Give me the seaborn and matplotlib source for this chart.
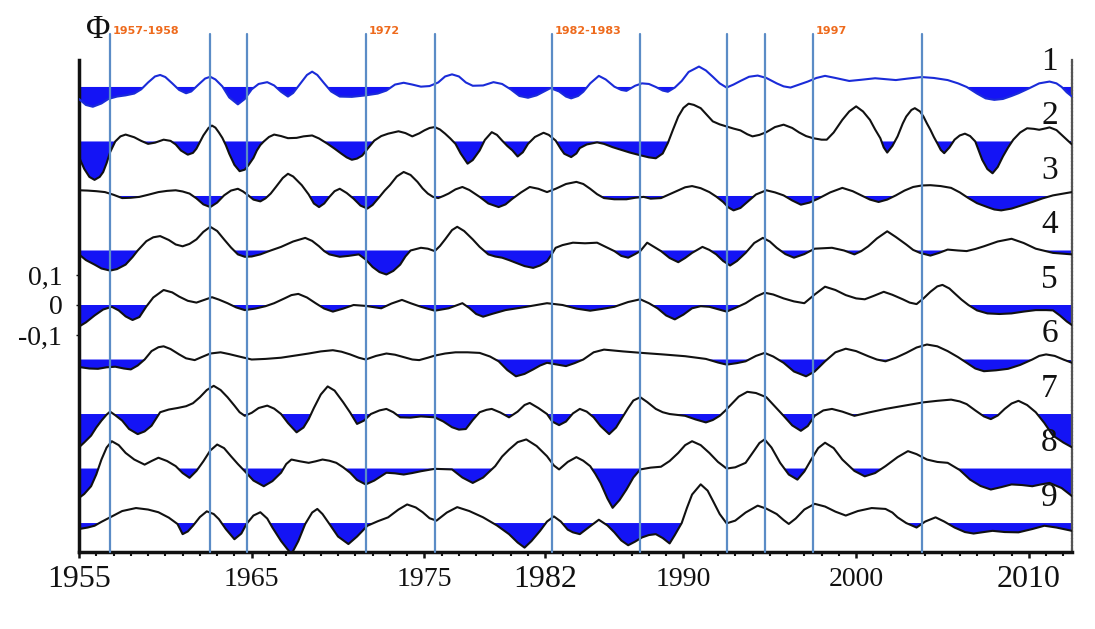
import matplotlib
matplotlib.use("Agg")
import matplotlib.pyplot as plt
import matplotlib.transforms as mtransforms
from matplotlib.ticker import FixedLocator, MultipleLocator
import seaborn as sns
import numpy as np

# ---------------- data ----------------
s1_year = [1955.0, 1955.4, 1955.8, 1956.3, 1956.7, 1957.2, 1957.7, 1958.2, 1958.6, 1959.0, 1959.4,
           1959.7, 1960.0, 1960.4, 1960.8, 1961.2, 1961.5, 1961.9, 1962.3, 1962.6, 1962.9, 1963.3,
           1963.7, 1964.2, 1964.6, 1965.0, 1965.4, 1965.9, 1966.3, 1966.7, 1967.1, 1967.4, 1967.8,
           1968.2, 1968.5, 1968.8, 1969.2, 1969.6, 1970.1, 1970.8, 1971.6, 1972.3, 1972.8, 1973.3,
           1973.8, 1974.3, 1974.8, 1975.3, 1975.8, 1976.2, 1976.6, 1977.0, 1977.4, 1977.8, 1978.4,
           1979.0, 1979.5, 1980.0, 1980.5, 1981.0, 1981.5, 1981.9, 1982.3, 1982.8, 1983.2, 1983.5,
           1983.9, 1984.2, 1984.6, 1985.1, 1985.5, 1986.0, 1986.4, 1986.7, 1987.2, 1987.6, 1988.0,
           1988.4, 1988.8, 1989.1, 1989.5, 1989.9, 1990.3, 1990.9, 1991.3, 1991.7, 1992.1, 1992.5,
           1992.9, 1993.3, 1993.8, 1994.3, 1994.8, 1995.4, 1995.8, 1996.2, 1996.7, 1997.2, 1997.7,
           1998.2, 1998.8, 1999.6, 2000.3, 2001.1, 2001.7, 2002.3, 2003.0, 2003.8, 2004.5, 2005.3,
           2005.9, 2006.4, 2007.0, 2007.5, 2008.0, 2008.5, 2009.0, 2009.4, 2010.0, 2010.6, 2011.2,
           2011.6, 2011.9, 2012.2, 2012.5]
s1_val = [-0.040, -0.060, -0.066, -0.055, -0.040, -0.032, -0.028, -0.022, -0.008, 0.015, 0.035,
          0.040, 0.033, 0.012, -0.010, -0.021, -0.015, 0.007, 0.028, 0.034, 0.025, 0.002,
          -0.035, -0.058, -0.040, -0.008, 0.010, 0.016, 0.005, -0.016, -0.032, -0.020, 0.010,
          0.040, 0.051, 0.040, 0.012, -0.015, -0.032, -0.033, -0.028, -0.022, -0.012, 0.008,
          0.014, 0.008, 0.001, 0.003, 0.015, 0.035, 0.042, 0.035, 0.015, 0.004, 0.005,
          0.016, 0.010, -0.008, -0.030, -0.036, -0.028, -0.016, -0.004, -0.015, -0.032, -0.038,
          -0.030, -0.016, 0.012, 0.037, 0.025, 0.001, -0.010, -0.013, 0.004, 0.012, 0.010,
          0.000, -0.012, -0.016, -0.002, 0.020, 0.050, 0.068, 0.055, 0.034, 0.012, -0.002,
          0.008, 0.020, 0.034, 0.038, 0.030, 0.012, 0.002, -0.002, 0.008, 0.018, 0.030,
          0.037, 0.030, 0.020, 0.024, 0.029, 0.026, 0.023, 0.028, 0.033, 0.030, 0.023,
          0.012, 0.000, -0.022, -0.038, -0.043, -0.040, -0.030, -0.021, -0.005, 0.012, 0.018,
          0.012, 0.000, -0.018, -0.032]

s2_year = [1955.0, 1955.3, 1955.6, 1955.9, 1956.2, 1956.4, 1956.6, 1956.8, 1957.1, 1957.4, 1957.7,
           1958.2, 1958.6, 1959.0, 1959.4, 1959.9, 1960.3, 1960.6, 1960.9, 1961.3, 1961.6, 1961.8,
           1962.0, 1962.2, 1962.5, 1962.7, 1962.9, 1963.1, 1963.3, 1963.5, 1963.7, 1964.0, 1964.3,
           1964.6, 1964.8, 1965.1, 1965.3, 1965.5, 1965.7, 1966.0, 1966.3, 1966.7, 1967.1, 1967.6,
           1968.0, 1968.5, 1968.9, 1969.4, 1969.8, 1970.2, 1970.5, 1970.8, 1971.1, 1971.4, 1971.7,
           1972.1, 1972.5, 1972.9, 1973.5, 1973.9, 1974.3, 1974.7, 1975.0, 1975.3, 1975.6, 1975.9,
           1976.2, 1976.5, 1976.8, 1977.1, 1977.5, 1977.8, 1978.2, 1978.5, 1978.9, 1979.2, 1979.5,
           1979.8, 1980.1, 1980.4, 1980.7, 1981.0, 1981.4, 1981.9, 1982.2, 1982.6, 1982.9, 1983.1,
           1983.5, 1983.8, 1984.0, 1984.4, 1985.0, 1985.4, 1985.9, 1986.4, 1986.9, 1987.5, 1988.0,
           1988.4, 1988.8, 1989.1, 1989.4, 1989.7, 1990.0, 1990.3, 1990.6, 1991.0, 1991.3, 1991.7,
           1992.1, 1992.5, 1992.9, 1993.3, 1993.7, 1994.0, 1994.4, 1994.8, 1995.3, 1995.8, 1996.3,
           1996.7, 1997.1, 1997.5, 1998.0, 1998.3, 1998.7, 1999.2, 1999.6, 2000.0, 2000.4, 2000.8,
           2001.1, 2001.4, 2001.6, 2001.8, 2002.1, 2002.4, 2002.7, 2002.9, 2003.2, 2003.4, 2003.7,
           2003.9, 2004.1, 2004.3, 2004.5, 2004.7, 2004.9, 2005.1, 2005.4, 2005.7, 2006.0, 2006.3,
           2006.6, 2006.9, 2007.1, 2007.3, 2007.6, 2007.9, 2008.2, 2008.5, 2008.8, 2009.1, 2009.5,
           2009.9, 2010.3, 2010.6, 2011.0, 2011.2, 2011.6, 2011.9, 2012.2, 2012.5]
s2_val = [-0.052, -0.091, -0.118, -0.128, -0.118, -0.102, -0.072, -0.036, 0.000, 0.017, 0.023,
          0.014, 0.002, -0.008, -0.004, 0.006, 0.002, -0.010, -0.030, -0.044, -0.038, -0.024,
          -0.002, 0.020, 0.045, 0.053, 0.046, 0.030, 0.012, -0.012, -0.041, -0.078, -0.099,
          -0.094, -0.080, -0.055, -0.030, -0.012, 0.000, 0.015, 0.023, 0.018, 0.011, 0.012,
          0.017, 0.020, 0.010, -0.008, -0.024, -0.041, -0.053, -0.061, -0.057, -0.047, -0.025,
          0.003, 0.018, 0.026, 0.034, 0.028, 0.017, 0.027, 0.037, 0.045, 0.048, 0.040,
          0.026, 0.010, -0.008, -0.040, -0.074, -0.062, -0.030, 0.005, 0.031, 0.022, 0.003,
          -0.015, -0.030, -0.050, -0.036, -0.008, 0.015, 0.029, 0.022, 0.003, -0.025, -0.041,
          -0.052, -0.040, -0.022, -0.010, -0.003, -0.008, -0.019, -0.028, -0.037, -0.046, -0.053,
          -0.056, -0.040, -0.005, 0.040, 0.083, 0.112, 0.126, 0.122, 0.111, 0.092, 0.067,
          0.057, 0.050, 0.043, 0.037, 0.024, 0.017, 0.022, 0.031, 0.048, 0.056, 0.045,
          0.030, 0.018, 0.011, 0.006, 0.006, 0.030, 0.072, 0.100, 0.117, 0.100, 0.072,
          0.040, 0.011, -0.020, -0.037, -0.015, 0.017, 0.060, 0.083, 0.105, 0.111, 0.100,
          0.083, 0.060, 0.039, 0.015, -0.006, -0.028, -0.039, -0.020, 0.006, 0.020, 0.026,
          0.018, 0.000, -0.030, -0.061, -0.092, -0.106, -0.085, -0.050, -0.020, 0.006, 0.030,
          0.044, 0.042, 0.039, 0.044, 0.047, 0.038, 0.022, 0.006, -0.010]

s3_year = [1955.0, 1955.5, 1956.0, 1956.5, 1957.0, 1957.5, 1958.0, 1958.5, 1959.0, 1959.6, 1960.1,
           1960.6, 1961.0, 1961.4, 1961.8, 1962.2, 1962.6, 1963.0, 1963.4, 1963.8, 1964.2, 1964.5,
           1964.8, 1965.1, 1965.5, 1965.8, 1966.1, 1966.4, 1966.8, 1967.1, 1967.4, 1967.9, 1968.3,
           1968.6, 1968.9, 1969.2, 1969.5, 1969.8, 1970.1, 1970.5, 1970.9, 1971.3, 1971.7, 1972.0,
           1972.4, 1972.7, 1973.0, 1973.4, 1973.8, 1974.2, 1974.6, 1974.9, 1975.2, 1975.5, 1975.8,
           1976.1, 1976.4, 1976.8, 1977.2, 1977.6, 1978.2, 1978.7, 1979.3, 1979.7, 1980.1, 1980.6,
           1981.1, 1981.6, 1982.1, 1982.6, 1983.2, 1983.8, 1984.2, 1984.6, 1985.0, 1985.4, 1986.0,
           1986.7, 1987.2, 1987.7, 1988.1, 1988.7, 1989.2, 1989.7, 1990.1, 1990.5, 1991.0, 1991.5,
           1991.9, 1992.3, 1992.6, 1992.9, 1993.3, 1993.7, 1994.2, 1994.8, 1995.3, 1995.8, 1996.3,
           1996.8, 1997.3, 1997.8, 1998.5, 1999.2, 1999.8, 2000.3, 2000.8, 2001.3, 2001.8, 2002.3,
           2002.8, 2003.3, 2003.8, 2004.3, 2004.9, 2005.5, 2006.0, 2006.5, 2007.0, 2007.6, 2008.0,
           2008.4, 2009.0, 2009.6, 2010.2, 2010.8, 2011.4, 2012.0, 2012.5]
s3_val = [0.019, 0.018, 0.016, 0.013, 0.004, -0.007, -0.006, -0.003, 0.004, 0.013, 0.017,
          0.019, 0.015, 0.008, -0.008, -0.028, -0.037, -0.022, 0.002, 0.018, 0.024, 0.015,
          0.002, -0.012, -0.018, -0.008, 0.008, 0.030, 0.060, 0.074, 0.065, 0.036, 0.005,
          -0.025, -0.037, -0.025, -0.003, 0.016, 0.024, 0.010, -0.009, -0.032, -0.042, -0.030,
          -0.003, 0.018, 0.036, 0.065, 0.080, 0.070, 0.047, 0.025, 0.008, -0.003, -0.007,
          0.000, 0.008, 0.022, 0.030, 0.020, -0.003, -0.025, -0.037, -0.028, -0.009, 0.012,
          0.030, 0.024, 0.013, 0.024, 0.040, 0.047, 0.040, 0.024, 0.006, -0.007, -0.011,
          -0.011, -0.006, -0.003, -0.009, -0.007, 0.006, 0.019, 0.029, 0.033, 0.026, 0.013,
          -0.002, -0.020, -0.038, -0.048, -0.040, -0.020, 0.005, 0.019, 0.012, 0.002, -0.015,
          -0.029, -0.022, -0.009, 0.012, 0.027, 0.016, 0.002, -0.012, -0.020, -0.012, 0.002,
          0.018, 0.030, 0.035, 0.036, 0.033, 0.027, 0.012, -0.007, -0.024, -0.037, -0.045,
          -0.048, -0.042, -0.031, -0.020, -0.008, 0.002, 0.008, 0.013]

s4_year = [1955.0, 1955.4, 1955.9, 1956.3, 1956.8, 1957.2, 1957.7, 1958.1, 1958.4, 1958.9, 1959.3,
           1959.7, 1960.2, 1960.6, 1961.0, 1961.4, 1961.8, 1962.2, 1962.6, 1963.0, 1963.4, 1963.8,
           1964.2, 1964.6, 1965.0, 1965.5, 1966.1, 1966.7, 1967.4, 1968.1, 1968.5, 1968.9, 1969.2,
           1969.5, 1970.1, 1970.6, 1971.2, 1971.6, 1972.0, 1972.4, 1972.8, 1973.2, 1973.6, 1973.9,
           1974.2, 1974.8, 1975.2, 1975.6, 1975.9, 1976.2, 1976.6, 1976.9, 1977.3, 1977.8, 1978.2,
           1978.7, 1979.1, 1979.5, 1979.9, 1980.3, 1980.8, 1981.3, 1981.7, 1982.1, 1982.4, 1982.6,
           1983.0, 1983.6, 1984.3, 1985.0, 1985.5, 1986.0, 1986.4, 1986.8, 1987.2, 1987.5, 1987.9,
           1988.3, 1988.7, 1989.2, 1989.7, 1990.1, 1990.5, 1991.1, 1991.5, 1991.9, 1992.3, 1992.7,
           1993.1, 1993.6, 1994.1, 1994.6, 1995.0, 1995.4, 1995.9, 1996.4, 1997.0, 1997.6, 1998.6,
           1999.3, 1999.9, 2000.3, 2000.7, 2001.2, 2001.8, 2002.3, 2002.9, 2003.3, 2003.7, 2004.3,
           2004.8, 2005.3, 2005.9, 2006.4, 2006.9, 2007.4, 2008.2, 2009.0, 2009.7, 2010.4, 2011.4,
           2012.5]
s4_val = [-0.013, -0.032, -0.047, -0.060, -0.067, -0.062, -0.047, -0.022, 0.000, 0.031, 0.044,
          0.048, 0.035, 0.020, 0.014, 0.022, 0.037, 0.062, 0.079, 0.065, 0.037, 0.010,
          -0.013, -0.021, -0.020, -0.013, 0.000, 0.012, 0.030, 0.042, 0.032, 0.014, -0.002,
          -0.013, -0.021, -0.018, -0.013, -0.030, -0.055, -0.072, -0.080, -0.068, -0.047, -0.020,
          0.000, 0.009, 0.006, -0.002, 0.015, 0.037, 0.068, 0.079, 0.065, 0.037, 0.012,
          -0.013, -0.020, -0.024, -0.032, -0.041, -0.052, -0.058, -0.050, -0.036, -0.010, 0.009,
          0.018, 0.026, 0.024, 0.026, 0.012, -0.002, -0.018, -0.024, -0.012, -0.002, 0.026,
          0.012, -0.002, -0.025, -0.039, -0.025, -0.008, 0.012, 0.002, -0.013, -0.035, -0.050,
          -0.035, -0.008, 0.025, 0.042, 0.030, 0.009, -0.012, -0.024, -0.012, 0.006, 0.009,
          0.000, -0.013, -0.002, 0.014, 0.040, 0.064, 0.045, 0.020, 0.002, -0.008, -0.017,
          -0.008, 0.003, 0.000, -0.002, 0.005, 0.014, 0.030, 0.039, 0.025, 0.006, -0.008,
          -0.013]

s5_year = [1955.0, 1955.4, 1955.9, 1956.4, 1956.9, 1957.3, 1957.7, 1958.1, 1958.5, 1958.9, 1959.3,
           1959.9, 1960.4, 1960.8, 1961.3, 1961.8, 1962.2, 1962.7, 1963.1, 1963.6, 1964.1, 1964.6,
           1965.2, 1965.8, 1966.3, 1966.9, 1967.3, 1967.7, 1968.2, 1968.7, 1969.2, 1969.7, 1970.3,
           1970.9, 1971.6, 1972.5, 1973.1, 1973.7, 1974.2, 1974.8, 1975.6, 1976.4, 1977.2, 1977.6,
           1978.0, 1978.4, 1978.9, 1979.7, 1980.9, 1982.1, 1983.0, 1983.8, 1984.6, 1985.3, 1986.0,
           1986.8, 1987.5, 1988.0, 1988.5, 1989.0, 1989.5, 1990.0, 1990.5, 1991.0, 1991.5, 1992.0,
           1992.5, 1993.0, 1993.6, 1994.2, 1994.7, 1995.2, 1995.8, 1996.4, 1997.0, 1997.6, 1998.2,
           1998.8, 1999.4, 2000.0, 2000.5, 2001.0, 2001.6, 2002.1, 2002.7, 2003.1, 2003.5, 2003.9,
           2004.3, 2004.7, 2005.0, 2005.4, 2005.7, 2006.1, 2006.5, 2007.0, 2007.6, 2008.3, 2009.0,
           2009.7, 2010.4, 2011.0, 2011.4, 2011.8, 2012.2, 2012.5]
s5_val = [-0.072, -0.058, -0.035, -0.015, -0.006, -0.018, -0.038, -0.050, -0.040, -0.005, 0.025,
          0.050, 0.042, 0.028, 0.014, 0.008, 0.016, 0.026, 0.018, 0.006, -0.008, -0.017,
          -0.012, -0.004, 0.006, 0.022, 0.033, 0.037, 0.025, 0.006, -0.012, -0.022, -0.012,
          0.000, -0.003, -0.011, 0.005, 0.017, 0.006, -0.006, -0.019, -0.011, 0.006, -0.010,
          -0.030, -0.039, -0.030, -0.017, -0.006, 0.006, 0.000, -0.012, -0.019, -0.013, -0.006,
          0.010, 0.019, 0.006, -0.011, -0.035, -0.048, -0.032, -0.011, -0.004, -0.006, -0.014,
          -0.022, -0.010, 0.006, 0.028, 0.041, 0.035, 0.022, 0.012, 0.006, 0.035, 0.061,
          0.050, 0.033, 0.022, 0.019, 0.030, 0.044, 0.034, 0.019, 0.008, 0.003, 0.022,
          0.044, 0.062, 0.067, 0.055, 0.039, 0.018, 0.000, -0.018, -0.028, -0.030, -0.028,
          -0.022, -0.017, -0.017, -0.018, -0.035, -0.055, -0.067]

s6_year = [1955.0, 1955.6, 1956.1, 1956.6, 1957.1, 1957.6, 1958.0, 1958.4, 1958.8, 1959.2, 1959.6,
           1959.9, 1960.3, 1960.8, 1961.2, 1961.7, 1962.1, 1962.6, 1963.2, 1963.7, 1964.2, 1965.0,
           1965.8, 1966.7, 1967.5, 1968.3, 1969.0, 1969.7, 1970.2, 1970.7, 1971.2, 1971.6, 1972.2,
           1972.8, 1973.3, 1973.8, 1974.3, 1974.7, 1975.2, 1975.6, 1976.2, 1976.8, 1977.5, 1978.2,
           1978.8, 1979.3, 1979.8, 1980.3, 1980.8, 1981.3, 1981.7, 1982.1, 1982.6, 1983.2, 1983.7,
           1984.2, 1984.8, 1985.4, 1986.5, 1987.6, 1988.8, 1990.1, 1991.3, 1992.0, 1992.5, 1993.1,
           1993.6, 1994.2, 1994.7, 1995.2, 1995.8, 1996.4, 1997.1, 1997.6, 1998.2, 1998.8, 1999.4,
           2000.0, 2000.7, 2001.2, 2001.7, 2002.3, 2002.9, 2003.5, 2004.1, 2004.7, 2005.3, 2005.9,
           2006.4, 2006.9, 2007.4, 2008.1, 2008.8, 2009.5, 2010.2, 2010.6, 2011.0, 2011.5, 2012.0,
           2012.5]
s6_val = [-0.025, -0.030, -0.031, -0.026, -0.024, -0.030, -0.033, -0.020, 0.000, 0.028, 0.041,
          0.044, 0.035, 0.017, 0.004, -0.002, 0.008, 0.020, 0.024, 0.018, 0.011, 0.000,
          0.002, 0.006, 0.013, 0.020, 0.027, 0.031, 0.026, 0.017, 0.006, 0.000, 0.012,
          0.020, 0.016, 0.008, 0.000, -0.002, 0.006, 0.013, 0.020, 0.024, 0.024, 0.022,
          0.010, -0.006, -0.035, -0.056, -0.048, -0.033, -0.020, -0.011, -0.016, -0.022, -0.012,
          0.000, 0.024, 0.033, 0.027, 0.022, 0.017, 0.011, 0.002, -0.010, -0.017, -0.012,
          -0.006, 0.012, 0.022, 0.010, -0.011, -0.040, -0.056, -0.040, -0.006, 0.024, 0.036,
          0.028, 0.011, 0.000, -0.006, 0.006, 0.022, 0.040, 0.050, 0.044, 0.028, 0.008,
          -0.011, -0.030, -0.039, -0.036, -0.031, -0.018, 0.000, 0.012, 0.017, 0.012, 0.000,
          -0.011]

s7_year = [1955.0, 1955.3, 1955.7, 1956.0, 1956.3, 1956.6, 1956.8, 1957.1, 1957.5, 1957.9, 1958.4,
           1958.8, 1959.2, 1959.5, 1959.7, 1960.2, 1960.7, 1961.2, 1961.6, 1962.0, 1962.4, 1962.8,
           1963.2, 1963.6, 1964.0, 1964.3, 1964.6, 1965.0, 1965.4, 1965.9, 1966.3, 1966.7, 1967.1,
           1967.6, 1968.0, 1968.3, 1968.6, 1969.0, 1969.4, 1969.8, 1970.3, 1970.7, 1971.1, 1971.5,
           1971.9, 1972.4, 1972.8, 1973.2, 1973.6, 1974.2, 1974.8, 1975.6, 1976.1, 1976.6, 1977.0,
           1977.4, 1977.8, 1978.2, 1978.6, 1978.9, 1979.4, 1979.9, 1980.4, 1980.8, 1981.1, 1981.6,
           1982.1, 1982.4, 1982.8, 1983.2, 1983.6, 1984.0, 1984.4, 1984.8, 1985.2, 1985.7, 1986.1,
           1986.4, 1986.8, 1987.1, 1987.5, 1987.9, 1988.4, 1988.8, 1989.2, 1990.1, 1990.7, 1991.3,
           1991.7, 1992.1, 1992.4, 1992.7, 1993.2, 1993.7, 1994.2, 1994.8, 1995.3, 1995.8, 1996.3,
           1996.8, 1997.2, 1997.6, 1998.1, 1998.6, 1999.2, 1999.9, 2000.8, 2001.7, 2002.8, 2003.9,
           2004.7, 2005.5, 2006.0, 2006.4, 2006.9, 2007.4, 2007.8, 2008.2, 2008.6, 2009.0, 2009.4,
           2009.9, 2010.4, 2010.9, 2011.4, 2012.0, 2012.5]
s7_val = [-0.111, -0.095, -0.072, -0.045, -0.022, -0.002, 0.008, -0.004, -0.022, -0.050, -0.067,
          -0.058, -0.039, -0.012, 0.006, 0.015, 0.020, 0.026, 0.036, 0.056, 0.080, 0.094,
          0.080, 0.056, 0.028, 0.006, -0.006, 0.004, 0.020, 0.028, 0.018, 0.000, -0.030,
          -0.061, -0.045, -0.017, 0.020, 0.065, 0.092, 0.078, 0.039, 0.005, -0.033, -0.022,
          0.000, 0.012, 0.017, 0.006, -0.011, -0.012, -0.008, -0.011, -0.025, -0.044, -0.052,
          -0.050, -0.020, 0.006, 0.014, 0.017, 0.005, -0.011, 0.008, 0.030, 0.037, 0.020,
          0.000, -0.025, -0.037, -0.025, 0.002, 0.017, 0.008, -0.011, -0.040, -0.067, -0.045,
          -0.017, 0.020, 0.045, 0.056, 0.040, 0.017, 0.006, 0.000, -0.006, -0.018, -0.028,
          -0.020, -0.006, 0.010, 0.028, 0.058, 0.074, 0.070, 0.056, 0.025, -0.006, -0.038,
          -0.056, -0.040, -0.006, 0.012, 0.017, 0.008, -0.006, 0.006, 0.017, 0.028, 0.039,
          0.044, 0.048, 0.042, 0.033, 0.012, -0.008, -0.017, -0.005, 0.017, 0.035, 0.044,
          0.030, 0.006, -0.030, -0.072, -0.095, -0.111]

s8_year = [1955.0, 1955.3, 1955.7, 1956.0, 1956.3, 1956.6, 1956.9, 1957.3, 1957.7, 1958.2, 1958.8,
           1959.2, 1959.6, 1960.1, 1960.6, 1961.0, 1961.4, 1961.8, 1962.2, 1962.6, 1963.0, 1963.4,
           1963.8, 1964.2, 1964.6, 1965.1, 1965.7, 1966.2, 1966.7, 1967.0, 1967.3, 1967.8, 1968.3,
           1968.7, 1969.1, 1969.5, 1969.9, 1970.3, 1970.7, 1971.1, 1971.6, 1972.1, 1972.8, 1973.3,
           1973.8, 1974.3, 1974.8, 1975.6, 1976.6, 1977.2, 1977.8, 1978.4, 1979.1, 1979.5, 1979.9,
           1980.4, 1980.9, 1981.5, 1982.1, 1982.5, 1982.8, 1983.3, 1983.8, 1984.2, 1984.6, 1984.9,
           1985.2, 1985.6, 1985.9, 1986.3, 1986.7, 1987.1, 1987.5, 1988.1, 1988.7, 1989.2, 1989.7,
           1990.1, 1990.5, 1991.0, 1991.5, 1992.0, 1992.5, 1993.0, 1993.6, 1994.1, 1994.4, 1994.7,
           1995.1, 1995.6, 1996.1, 1996.6, 1997.0, 1997.4, 1997.8, 1998.2, 1998.7, 1999.2, 1999.9,
           2000.5, 2001.1, 2001.7, 2002.4, 2003.0, 2003.5, 2004.1, 2004.7, 2005.3, 2006.0, 2006.6,
           2007.2, 2007.8, 2008.4, 2009.0, 2009.6, 2010.2, 2010.7, 2011.2, 2011.9, 2012.5]
s8_val = [-0.098, -0.085, -0.059, -0.020, 0.030, 0.070, 0.091, 0.078, 0.052, 0.030, 0.013,
          0.025, 0.036, 0.025, 0.008, -0.015, -0.031, -0.008, 0.024, 0.060, 0.080, 0.068,
          0.041, 0.015, -0.009, -0.040, -0.059, -0.042, -0.014, 0.015, 0.030, 0.024, 0.019,
          0.024, 0.030, 0.026, 0.019, 0.004, -0.014, -0.038, -0.053, -0.040, -0.014, -0.016,
          -0.020, -0.015, -0.009, -0.001, -0.003, -0.030, -0.048, -0.030, 0.008, 0.040, 0.063,
          0.088, 0.097, 0.075, 0.041, 0.010, -0.003, 0.022, 0.038, 0.026, 0.008, -0.018,
          -0.048, -0.100, -0.131, -0.105, -0.070, -0.030, -0.003, 0.003, 0.006, 0.025, 0.052,
          0.078, 0.091, 0.078, 0.052, 0.022, 0.000, 0.004, 0.019, 0.060, 0.085, 0.097,
          0.070, 0.019, -0.020, -0.037, -0.010, 0.030, 0.068, 0.086, 0.068, 0.030, -0.008,
          -0.026, -0.015, 0.008, 0.038, 0.058, 0.048, 0.030, 0.022, 0.019, -0.005, -0.037,
          -0.058, -0.070, -0.062, -0.053, -0.055, -0.059, -0.053, -0.048, -0.065, -0.092]

s9_year = [1955.0, 1955.5, 1955.9, 1956.3, 1956.8, 1957.5, 1958.3, 1959.0, 1959.6, 1960.2, 1960.7,
           1961.0, 1961.3, 1961.6, 1962.0, 1962.4, 1962.8, 1963.1, 1963.5, 1964.0, 1964.4, 1964.7,
           1965.1, 1965.5, 1965.9, 1966.2, 1966.7, 1967.3, 1967.7, 1968.1, 1968.5, 1968.8, 1969.1,
           1969.5, 1970.0, 1970.6, 1971.1, 1971.7, 1972.3, 1972.9, 1973.5, 1974.0, 1974.5, 1974.9,
           1975.3, 1975.7, 1976.3, 1976.9, 1977.6, 1978.4, 1979.2, 1979.9, 1980.4, 1980.8, 1981.2,
           1981.7, 1982.1, 1982.5, 1982.9, 1983.3, 1983.6, 1984.0, 1984.5, 1985.1, 1985.6, 1986.0,
           1986.4, 1986.8, 1987.2, 1987.6, 1988.0, 1988.4, 1988.8, 1989.2, 1989.5, 1989.9, 1990.2,
           1990.5, 1991.0, 1991.4, 1991.7, 1992.1, 1992.5, 1993.0, 1993.6, 1994.3, 1994.8, 1995.4,
           1995.8, 1996.1, 1996.5, 1997.0, 1997.6, 1998.2, 1998.8, 1999.4, 2000.1, 2000.9, 2001.7,
           2002.1, 2002.4, 2002.9, 2003.5, 2004.0, 2004.6, 2005.1, 2005.7, 2006.3, 2006.8, 2007.4,
           2007.9, 2008.6, 2009.4, 2010.2, 2010.9, 2011.6, 2012.5]
s9_val = [-0.020, -0.015, -0.009, 0.004, 0.019, 0.040, 0.050, 0.045, 0.036, 0.018, -0.003,
          -0.037, -0.028, -0.009, 0.020, 0.039, 0.030, 0.013, -0.020, -0.054, -0.035, -0.003,
          0.025, 0.036, 0.015, -0.015, -0.060, -0.104, -0.060, -0.003, 0.035, 0.047, 0.030,
          -0.003, -0.045, -0.070, -0.045, -0.009, 0.006, 0.019, 0.045, 0.062, 0.052, 0.036,
          0.016, 0.008, 0.035, 0.053, 0.040, 0.019, -0.008, -0.037, -0.065, -0.082, -0.060,
          -0.026, 0.005, 0.022, 0.005, -0.022, -0.031, -0.037, -0.015, 0.011, -0.008, -0.031,
          -0.058, -0.074, -0.062, -0.048, -0.040, -0.037, -0.050, -0.068, -0.040, 0.000, 0.050,
          0.095, 0.129, 0.108, 0.075, 0.030, -0.001, 0.008, 0.035, 0.058, 0.048, 0.030,
          0.010, -0.003, 0.015, 0.045, 0.064, 0.055, 0.038, 0.025, 0.040, 0.050, 0.047,
          0.035, 0.019, 0.000, -0.015, 0.005, 0.019, 0.005, -0.015, -0.030, -0.035, -0.030,
          -0.026, -0.030, -0.031, -0.020, -0.009, -0.015, -0.026]

series_years = [s1_year, s2_year, s3_year, s4_year, s5_year, s6_year, s7_year, s8_year, s9_year]
series_vals = [s1_val, s2_val, s3_val, s4_val, s5_val, s6_val, s7_val, s8_val, s9_val]
series_labels = ["1", "2", "3", "4", "5", "6", "7", "8", "9"]

tick_years = [1955, 1965, 1975, 1982, 1990, 2000, 2010]
tick_labels = ["1955", "1965", "1975", "1982", "1990", "2000", "2010"]
big_tick_labels = ["1955", "1982", "2010"]
ytick_vals = [0.1, 0.0, -0.1]
ytick_labels = ["0,1", "0", "-0,1"]

event_years = [1956.8, 1962.6, 1964.7, 1971.6, 1975.6, 1982.4, 1987.5, 1992.5, 1994.7, 1997.5, 2003.8]
event_texts = ["1957-1958", "1972", "1982-1983", "1997"]
event_text_line = [0, 3, 5, 9]

# ---------------- styling ----------------
sns.set_theme(style="white")
plt.rcParams["font.family"] = ["Liberation Serif", "DejaVu Serif"]

STEP = 0.1817          # vertical distance between stacked series
FILL = "#1414f5"
VLINE = "#5b8cc6"
ORANGE = "#ee6a1c"

fig = plt.figure(figsize=(10.95, 6.29), dpi=100)
fig.patch.set_facecolor("white")
ax = fig.add_axes([79 / 1095, 1 - 552 / 629, 993 / 1095, 492 / 629])
ax.set_facecolor("none")

for i, (yrs, vals) in enumerate(zip(series_years, series_vals)):
    base = (4 - i) * STEP
    x = np.asarray(yrs, dtype=float)
    v = np.asarray(vals, dtype=float)
    y = base + v
    ax.fill_between(x, base, y, where=v < 0, interpolate=True, color=FILL,
                    linewidth=0, zorder=2)
    sns.lineplot(x=x, y=y, ax=ax, estimator=None, sort=False,
                 color="#1a2bd8" if i == 0 else "#111111",
                 linewidth=1.5, zorder=3, legend=False)
    ax.text(2011.2, base + 0.085, series_labels[i], fontsize=24, ha="center",
            va="center", color="#111111", zorder=4)

for yr in event_years:
    ax.axvline(yr, ymin=0, ymax=(552 - 34) / 492, color=VLINE, linewidth=1.6,
               clip_on=False, zorder=5)

offset = mtransforms.offset_copy(ax.get_xaxis_transform(), fig=fig, x=3, y=0, units="dots")
for txt, li in zip(event_texts, event_text_line):
    ax.text(event_years[li], (552 - 31) / 492, txt, transform=offset, ha="left",
            va="center", fontsize=8, fontweight="bold", color=ORANGE,
            family="DejaVu Sans", clip_on=False)

ax.text(1955.4, (552 - 30) / 492, "\u03a6", transform=ax.get_xaxis_transform(),
        fontsize=24, ha="left", va="center", color="#111111", clip_on=False)

ax.set_xlim(1955, 2012.5)
ax.set_ylim(-(552 - 305) / 300, (305 - 60) / 300)

ax.xaxis.set_major_locator(FixedLocator(tick_years))
ax.set_xticklabels(tick_labels)
ax.xaxis.set_minor_locator(MultipleLocator(1))
ax.tick_params(axis="x", which="major", direction="out", length=4, width=1.8,
               color="#111111", pad=16, labelsize=20, labelcolor="#111111", bottom=True)
ax.tick_params(axis="x", which="minor", direction="out", length=3, width=1.5,
               color="#111111", bottom=True)
for lab in ax.get_xticklabels():
    lab.set_va("center")
    if lab.get_text() in big_tick_labels:
        lab.set_fontsize(23)

ax.yaxis.set_major_locator(FixedLocator(ytick_vals))
ax.set_yticklabels(ytick_labels)
ax.tick_params(axis="y", which="major", direction="out", length=2, width=1,
               color="#111111", pad=10, labelsize=20, labelcolor="#111111", left=True)

ax.spines["top"].set_visible(False)
ax.spines["left"].set_linewidth(2.5)
ax.spines["left"].set_color("#111111")
ax.spines["bottom"].set_linewidth(2.5)
ax.spines["bottom"].set_color("#111111")
ax.spines["right"].set_linewidth(1.6)
ax.spines["right"].set_color("#555555")
ax.spines["right"].set_linestyle((0, (1, 0.6)))
ax.grid(False)

fig.savefig("out.png", dpi=100, facecolor="white")
